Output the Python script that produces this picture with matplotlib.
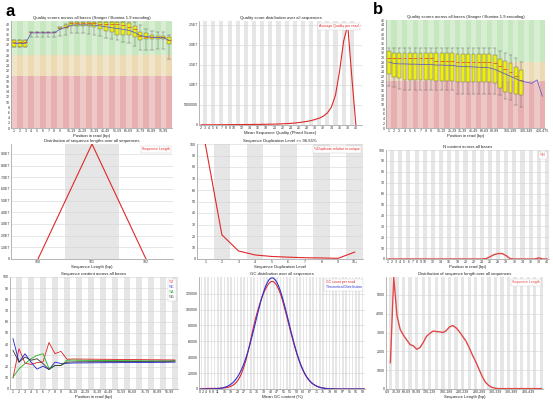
import numpy as np
import matplotlib.pyplot as plt

plt.rcParams['font.family'] = ['Liberation Sans', 'DejaVu Sans']

# ---------------- data ----------------
# a: per base quality (28 groups)
pos_a = ['1', '2', '3', '4', '5', '6', '7', '8', '9', '10-14', '15-19', '20-24', '25-29',
         '30-34', '35-39', '40-44', '45-49', '50-54', '55-59', '60-64', '65-69', '70-74',
         '75-79', '80-84', '85-89', '90-94', '95-99', '100-101']
pos_a_shown = ['1', '2', '3', '4', '5', '6', '7', '8', '9', '15-19', '25-29', '35-39',
               '45-49', '55-59', '65-69', '75-79', '85-89', '95-99']
qa_low = [31, 31, 31, 35, 35, 35, 35, 35, 35.5, 36, 36.4, 36.4, 36.4, 36.2, 36, 35.3, 34.8,
          34.3, 33.8, 33.1, 32.7, 31.4, 29.9, 29.9, 30.1, 30.5, 30.5, 26.6]
qa_q1 = [31.2, 31.2, 31.2, 37, 37, 37, 37, 37, 38, 38.5, 39.2, 39.2, 39.2, 39.2, 39, 38, 37.4,
         36.8, 35.7, 35.7, 35.7, 35, 33.8, 34.4, 34.4, 34.4, 34.2, 32.5]
qa_med = [33, 33, 33, 37, 37, 37, 37, 37, 38.5, 39, 40.5, 40.5, 40.5, 40.5, 40.5, 40, 40, 40,
          40, 39.5, 39, 38, 35.5, 35, 35, 35, 35, 34]
qa_q3 = [34, 34, 34, 37, 37, 37, 37, 37, 39, 39.7, 41, 41, 41, 41, 41, 41, 41, 41, 41, 41,
         40.3, 39.2, 37, 36.4, 35.7, 35.3, 35.3, 35]
qa_high = [34, 34, 34, 37, 37, 37, 37, 37, 39, 40, 41, 41, 41, 41, 41, 41, 41, 41, 41, 41, 41,
           41, 39.6, 38, 37.5, 37, 37, 35.7]
qa_mean = [32.5, 32.5, 32.5, 36.6, 36.6, 36.6, 36.6, 36.6, 38, 38.8, 39.6, 39.7, 39.7, 39.7,
           39.6, 39.3, 39, 38.6, 38.3, 38, 37.6, 36.8, 35.6, 35.2, 35, 34.8, 34.7, 33.8]

# a: per sequence quality
seqq = ['2', '3', '4', '5', '6', '7', '8', '9', '10', '11', '12', '13', '14', '15', '16', '17',
        '18', '19', '20', '21', '22', '23', '24', '25', '26', '27', '28', '29', '30', '31', '32',
        '33', '34', '35', '36', '37', '38', '39', '40']
seqq_shown = ['2', '3', '4', '5', '6', '7', '8', '9', '10', '12', '14', '16', '18', '20', '22',
              '24', '26', '28', '30', '32', '34', '36', '38', '40']
seqq_count = [5e4, 5e4, 5e4, 5e4, 6e4, 7e4, 8e4, 9e4, 1e5, 1e5, 1.1e5, 1.2e5, 1.3e5, 1.4e5,
              1.5e5, 1.6e5, 1.8e5, 2e5, 2.2e5, 2.5e5, 3e5, 3.5e5, 4e5, 5e5, 6e5, 7.5e5, 9e5,
              1.1e6, 1.4e6, 1.7e6, 2.2e6, 3e6, 4.5e6, 7.5e6, 1.35e7, 2.1e7, 2.5e7, 1.2e7, 0]

# a: sequence length
len_a = ['100', '101', '102']
len_a_count = [0, 9.85e7, 0]

# a: duplication
dup_lvl = ['1', '2', '3', '4', '5', '6', '7', '8', '9', '10+']
dup_pct = [100, 21, 7, 3.5, 2.2, 1.6, 1.1, 0.9, 0.6, 6]

# a: per base sequence content
pct_t = [10, 36, 23, 22, 23.5, 24.2, 41.5, 31.5, 33.6, 26.5, 26.8, 26.7, 26.7, 26.6, 26.6,
         26.5, 26.5, 26.4, 26.4, 26.3, 26.3, 26.2, 26.2, 26.1, 26.1, 26, 26, 25.9]
pct_c = [45, 24, 31.5, 24, 17.7, 20.4, 17.4, 24, 22.7, 23, 23.2, 23.3, 23.3, 23.4, 23.4, 23.5,
         23.5, 23.5, 23.6, 23.6, 23.6, 23.7, 23.7, 23.7, 23.8, 23.8, 23.9, 24]
pct_a = [10.5, 18, 22.7, 27, 30, 31.5, 18.3, 21, 21, 25.7, 25.8, 25.7, 25.6, 25.6, 25.5, 25.5,
         25.4, 25.4, 25.3, 25.3, 25.2, 25.2, 25.1, 25.1, 25, 25, 25, 25]
pct_g = [34.5, 24, 28.6, 25.7, 27, 22.7, 17.4, 21, 21, 24, 24.2, 24.3, 24.3, 24.4, 24.4, 24.4,
         24.5, 24.5, 24.5, 24.6, 24.6, 24.6, 24.7, 24.7, 24.8, 24.8, 24.8, 25]

# a: GC distribution (0..100 %)
gc_pct = [str(i) for i in range(101)]
gc_shown = ['0', '2', '4', '6', '8', '11', '15', '19', '23', '27', '31', '35', '39', '43', '47',
            '51', '55', '59', '63', '67', '71', '75', '79', '83', '87', '91', '95', '99']
gc_count = [0, 200, 400, 500, 600, 700, 800, 800, 800, 800, 800, 800, 900, 1000, 1200, 1400,
            1700, 2100, 2700, 3500, 4600, 6100, 8000, 10500, 13800, 17800, 23000, 29000, 36000,
            44000, 53000, 62500, 72000, 81000, 89500, 97000, 104000, 110500, 116500, 121500,
            126000, 129800, 132800, 134800, 135500, 134800, 132800, 129600, 125300, 120000,
            113500, 106300, 98500, 90500, 82300, 74200, 66300, 58600, 51300, 44400, 38000,
            32200, 27000, 22400, 18400, 15000, 12100, 9700, 7700, 6100, 4800, 3700, 2900, 2200,
            1700, 1300, 1000, 700, 500, 400, 300, 200, 150, 100, 50, 0, 0, 0, 0, 0, 0, 0, 0, 0,
            0, 0, 0, 0, 0, 0, 0]
gc_theory = [0, 0, 0, 0, 0, 0, 0, 0, 200, 300, 400, 600, 800, 1100, 1500, 2100, 2800, 3600,
             4800, 6200, 7800, 9900, 12500, 15400, 18900, 23000, 27700, 33000, 38900, 45500,
             52500, 60200, 68200, 76400, 85000, 93400, 101600, 109600, 116900, 123500, 129200,
             133800, 137200, 139300, 140000, 139300, 137200, 133800, 129200, 123500, 116900,
             109600, 101600, 93400, 85000, 76400, 68200, 60200, 52500, 45500, 38900, 33000,
             27700, 23000, 18900, 15400, 12500, 9900, 7800, 6200, 4800, 3600, 2800, 2100, 1500,
             1100, 800, 600, 400, 300, 200, 100, 100, 0, 0, 0, 0, 0, 0, 0, 0, 0, 0, 0, 0, 0, 0,
             0, 0, 0, 0]

# b: per base quality (30 groups, boxes on first 26)
pos_b = ['1', '2', '3', '4', '5', '6', '7', '8', '9', '10-14', '15-19', '20-24', '25-29',
         '30-34', '35-39', '40-44', '45-49', '50-59', '60-69', '70-79', '80-89', '90-99',
         '100-149', '150-199', '200-249', '250-299', '300-349', '350-399', '400-449', '450-475']
pos_b_shown = ['1', '2', '3', '4', '5', '6', '7', '8', '9', '15-19', '25-29', '35-39', '45-49',
               '60-69', '80-89', '150-199', '300-349', '450-475']
qb_low = [17.7, 17.5, 16.5, 16.3, 16.3, 16.3, 16.3, 16.3, 16.3, 16, 16, 16, 16, 14.5, 14.5,
          14.5, 14.5, 14.5, 14.5, 14.5, 14.3, 14, 12.5, 12, 10, 9]
qb_q1 = [22.8, 21.7, 21.5, 20.6, 20.6, 20.6, 20.6, 20.6, 20.6, 20.2, 20.2, 20.2, 20.2, 19.6,
         19.6, 19.6, 19.6, 19.6, 19.6, 19.6, 19, 17, 15.5, 15, 14.5, 14]
qb_med = [29.9, 30, 30, 30, 30, 30, 30, 30, 30, 28.5, 28.5, 28.5, 28.5, 28, 28, 28, 28, 28, 28,
          28, 27.5, 26.5, 25, 24, 22, 20.5]
qb_q3 = [33, 32, 32, 32, 32, 32, 32, 32, 32, 32, 32, 32, 32, 31.6, 31.6, 31.6, 31.6, 31.6,
         31.6, 31.6, 31, 29.5, 28.5, 27.5, 26, 24.5]
qb_high = [34.2, 34, 34, 34, 34, 34, 34, 34, 34, 34, 34, 34, 34, 34, 34, 34, 34, 34, 34, 34, 34,
           33, 32, 31, 30, 28]
qb_mean = [28.1, 27.5, 27.3, 27.3, 27.2, 27.2, 27.1, 27.1, 27, 26.8, 26.8, 26.7, 26.7, 26.3,
           26.2, 26.1, 26, 25.9, 25.8, 25.6, 25, 24, 23, 22, 21, 20, 19.5, 19, 20.5, 13.5]

# b: N content
pos_n = [str(i) for i in range(1, 41)]
pos_n_shown = ['1', '2', '3', '4', '5', '6', '7', '8', '9', '10', '12', '14', '16', '18', '20',
               '22', '24', '26', '28', '30', '32', '34', '36', '38', '40']
n_pct = [0, 0, 0, 0, 0, 0, 0, 0, 0, 0, 0, 0, 0, 0, 0, 0, 0, 0, 0, 0, 0, 0, 0, 0, 0.3, 2, 4, 5,
         5, 3, 0.3, 0, 0, 0, 0, 0, 0, 1, 0, 0]

# b: sequence length
len_b = ['%d-%d' % (i, i + 9) for i in range(0, 480, 10)]
len_b_shown = ['0-9', '30-39', '60-69', '90-99', '130-139', '180-189', '230-239', '280-289',
               '330-339', '380-389', '430-439']
len_b_count = [np.nan, 1400, 5950, 3900, 3150, 2850, 2600, 2360, 2290, 2110, 2200, 2470, 2800,
               2950, 3080, 3050, 3040, 3000, 3100, 3300, 3370, 3250, 3050, 2800, 2550, 2200,
               1800, 1450, 1050, 650, 350, 180, 80, 40, 20, 20, 20, 20, 20, 20, 20, 20, 20, 20,
               20, 20, 20, 20]

# ---------------- helpers ----------------
W, H = 553, 400
fig = plt.figure(figsize=(W / 100, H / 100), dpi=100)
RED = '#e02828'
FS = 2.6


def panel(l, t, r, b):
    return fig.add_axes([l / W, 1 - b / H, (r - l) / W, (b - t) / H])


def style(ax, title, xlabel, cats, shown, yticks, ylabels, ymax, xpad=0.5):
    ax.set_xlim(-0.5, len(cats) - 1 + xpad)
    ax.set_ylim(0, ymax)
    ax.set_xticks([cats.index(s) for s in shown])
    ax.set_xticklabels(shown)
    ax.set_yticks(yticks)
    ax.set_yticklabels(ylabels)
    ax.tick_params(length=0, labelsize=FS, pad=0.8, colors='#333333')
    ax.set_title(title, fontsize=3.1, pad=1.2, color='#222222')
    ax.set_xlabel(xlabel, fontsize=3.1, labelpad=0.4, color='#222222')
    for s in ('top', 'right'):
        ax.spines[s].set_visible(False)
    for s in ('left', 'bottom'):
        ax.spines[s].set_color('#999999')
        ax.spines[s].set_linewidth(0.5)


def stripes(ax, n):
    for i in range(1, n, 2):
        ax.axvspan(i - 0.5, i + 0.5, color='#e6e6e6', lw=0, zorder=0)
    ax.set_axisbelow(True)
    ax.grid(axis='y', color='#d4d4d4', lw=0.4)


def quality_bg(ax, n, ymax):
    ax.axhspan(28, ymax, color='#c6e7c0', lw=0, zorder=0)
    ax.axhspan(20, 28, color='#ebdab3', lw=0, zorder=0)
    ax.axhspan(0, 20, color='#e7b0b0', lw=0, zorder=0)
    for i in range(0, n, 2):
        ax.axvspan(i - 0.5, i + 0.5, color='white', alpha=0.3, lw=0, zorder=0.1)


def boxes(ax, low, q1, med, q3, high, mean):
    stats = [dict(whislo=a, q1=b, med=c, q3=d, whishi=e)
             for a, b, c, d, e in zip(low, q1, med, q3, high)]
    ax.bxp(stats, positions=range(len(stats)), widths=0.7, capwidths=0.6, patch_artist=True,
           showfliers=False, manage_ticks=False,
           boxprops=dict(facecolor='#eeee10', edgecolor='#666666', lw=0.3),
           medianprops=dict(color='#e0401c', lw=0.5),
           whiskerprops=dict(color='#666666', lw=0.3),
           capprops=dict(color='#666666', lw=0.3))
    ax.plot(range(len(mean)), mean, color='#5050c8', lw=0.5, zorder=5)


def legend(ax, handles):
    leg = ax.legend(handles=handles, loc='upper right', fontsize=2.5, handlelength=0,
                    handletextpad=0, borderpad=0.4, labelspacing=0.3, labelcolor='linecolor',
                    fancybox=False, edgecolor='#cccccc', framealpha=1, borderaxespad=0.5)
    leg.get_frame().set_linewidth(0.3)


# ---------------- a: row 1 ----------------
ax = panel(11, 21, 172, 128)
quality_bg(ax, len(pos_a), 41.2)
boxes(ax, qa_low, qa_q1, qa_med, qa_q3, qa_high, qa_mean)
style(ax, 'Quality scores across all bases (Sanger / Illumina 1.9 encoding)', 'Position in read (bp)',
      pos_a, pos_a_shown, range(0, 41, 2), [str(v) for v in range(0, 41, 2)], 41.2)

ax = panel(199, 21, 362, 125)
stripes(ax, len(seqq))
h, = ax.plot(range(len(seqq)), seqq_count, color=RED, lw=0.8, label='Average Quality per read')
style(ax, 'Quality score distribution over all sequences', 'Mean Sequence Quality (Phred Score)',
      seqq, seqq_shown, [0, 5e6, 1e7, 1.5e7, 2e7, 2.5e7],
      ['0', '5000000', '1.0E7', '1.5E7', '2.0E7', '2.5E7'], 2.6e7, xpad=1.5)
legend(ax, [h])

# ---------------- a: row 2 ----------------
ax = panel(11, 144, 173, 259)
stripes(ax, len(len_a))
h, = ax.plot(range(len(len_a)), len_a_count, color=RED, lw=0.8, label='Sequence Length')
style(ax, 'Distribution of sequence lengths over all sequences', 'Sequence Length (bp)',
      len_a, len_a, [i * 1e7 for i in range(10)],
      ['0'] + ['%.1fE7' % i for i in range(1, 10)], 9.85e7)
legend(ax, [h])

ax = panel(197, 144, 363, 259)
stripes(ax, len(dup_lvl))
h, = ax.plot(range(len(dup_lvl)), dup_pct, color=RED, lw=0.8, label='%Duplicate relative to unique')
style(ax, 'Sequence Duplication Level >= 96.65%', 'Sequence Duplication Level',
      dup_lvl, dup_lvl, range(0, 101, 10), [str(v) for v in range(0, 101, 10)], 100)
legend(ax, [h])

# ---------------- a: row 3 ----------------
ax = panel(10, 277, 178, 389)
stripes(ax, len(pos_a))
x = range(len(pos_a))
hs = [ax.plot(x, pct_t, color='#e02020', lw=0.6, label='%T')[0],
      ax.plot(x, pct_c, color='#2020d0', lw=0.6, label='%C')[0],
      ax.plot(x, pct_a, color='#20b020', lw=0.6, label='%A')[0],
      ax.plot(x, pct_g, color='#333333', lw=0.6, label='%G')[0]]
style(ax, 'Sequence content across all bases', 'Position in read (bp)',
      pos_a, pos_a_shown, range(0, 101, 10), [str(v) for v in range(0, 101, 10)], 100)
legend(ax, hs)

ax = panel(199, 277, 365, 389)
stripes(ax, len(gc_pct))
h1, = ax.plot(range(len(gc_pct)), gc_count, color=RED, lw=0.8, label='GC count per read')
h2, = ax.plot(range(len(gc_pct)), gc_theory, color='#3030d0', lw=0.8, label='Theoretical Distribution')
style(ax, 'GC distribution over all sequences', 'Mean GC content (%)',
      gc_pct, gc_shown, range(0, 120001, 20000), [str(v) for v in range(0, 120001, 20000)], 141000)
legend(ax, [h1, h2])

# ---------------- b ----------------
ax = panel(386, 20, 545, 128)
quality_bg(ax, len(pos_b), 46)
boxes(ax, qb_low, qb_q1, qb_med, qb_q3, qb_high, qb_mean)
style(ax, 'Quality scores across all bases (Sanger / Illumina 1.9 encoding)', 'Position in read (bp)',
      pos_b, pos_b_shown, range(0, 47, 2), [str(v) for v in range(0, 47, 2)], 46)

ax = panel(386, 150, 549, 259)
stripes(ax, len(pos_n))
h, = ax.plot(range(len(pos_n)), n_pct, color='#e04848', lw=1.0, label='%N')
style(ax, 'N content across all bases', 'Position in read (bp)',
      pos_n, pos_n_shown, range(0, 101, 10), [str(v) for v in range(0, 101, 10)], 100)
legend(ax, [h])

ax = panel(385.5, 277, 543, 389)
stripes(ax, len(len_b))
h, = ax.plot(range(len(len_b)), len_b_count, color='#e04848', lw=1.0, label='Sequence Length')
style(ax, 'Distribution of sequence length over all sequences', 'Sequence Length (bp)',
      len_b, len_b_shown, range(0, 5001, 1000), [str(v) for v in range(0, 5001, 1000)], 5950)
legend(ax, [h])

fig.text(5 / W, 1 - 11 / H, 'a', fontsize=12, fontweight='bold', va='center')
fig.text(373 / W, 1 - 10 / H, 'b', fontsize=12, fontweight='bold', va='center')

fig.savefig('out.png', dpi=100)
